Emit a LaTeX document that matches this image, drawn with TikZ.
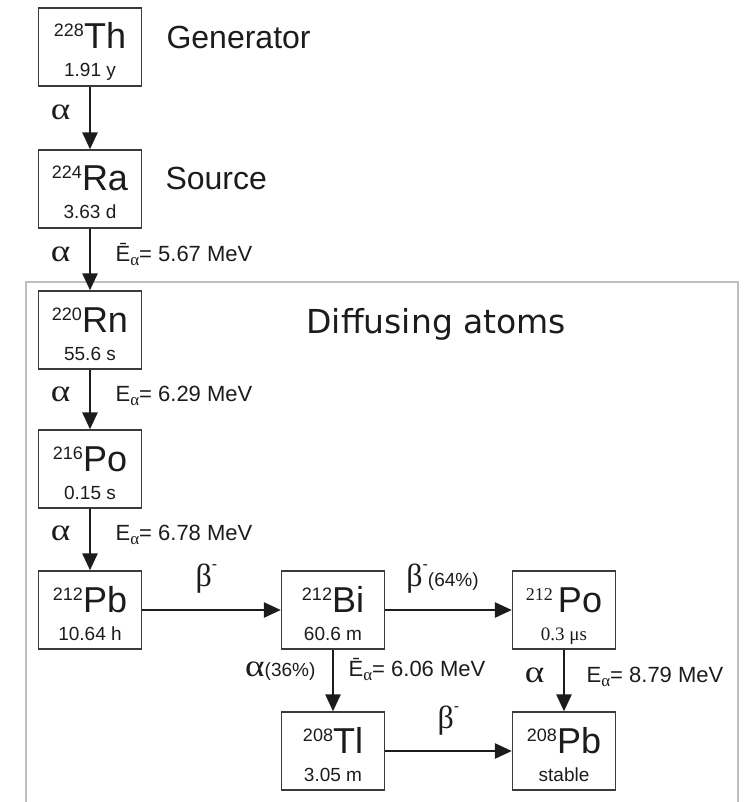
\documentclass[tikz,border=0pt]{standalone}
\usepackage{fontspec}
\setmainfont{Liberation Sans}
\newfontfamily\grk{Liberation Serif}
\newfontfamily\dvs{DejaVu Sans}
\usetikzlibrary{arrows.meta}

\definecolor{boxgray}{HTML}{3A3A3A}
\definecolor{framegray}{HTML}{BEBEBE}
\definecolor{ink}{HTML}{1C1C1C}

\newcommand{\fs}[1]{\fontsize{#1}{#1}\selectfont}
% nuclide box: mass number, element, half-life
\newcommand{\nucl}[3]{\vtop{\baselineskip=28pt\lineskiplimit=-30pt
  \halign{\hfil##\hfil\cr\raisebox{12pt}{\fs{18}#1}{\fs{36}#2}\cr{\fs{19}#3}\cr}}}
\newcommand{\al}{{\grk\fs{31}\scalebox{1.2}[1]{α}}}
\newcommand{\be}{{\grk\fs{32}β}\raisebox{17pt}{\fs{16}-}}
\newcommand{\Ea}{E\raisebox{-4pt}{\grk\fs{17}α}}
\newcommand{\Eb}{Ē\raisebox{-4pt}{\grk\fs{17}α}}

\begin{document}
\begin{tikzpicture}[x=1pt,y=-1pt,every node/.style={text=ink},
  nuc/.style={draw=boxgray,line width=1.3pt,inner sep=0pt,
    minimum width=103pt,text height=41pt,text depth=37pt},
  arr/.style={ink,line width=2.6pt,-{Triangle[width=15pt,length=17pt]}},
  lab/.style={font=\fs{22}},
  big/.style={font=\fs{32}}]
  \useasboundingbox (0,0) rectangle (748,802);

  % diffusing region
  \draw[framegray,line width=1.2pt] (26,802) -- (26,282) -- (738,282) -- (738,802);
  \node[anchor=base west,font=\dvs\fs{33}] (diff) at (303,333) {Diffusing atoms};

  % chain
  \node[nuc] (th) at (90,47) {\nucl{228}{Th}{1.91 y}};
  \node[nuc] (ra) at (90,189) {\nucl{224}{Ra}{3.63 d}};
  \node[nuc] (rn) at (90,330) {\nucl{220}{Rn}{55.6 s}};
  \node[nuc] (po6) at (90,469) {\nucl{216}{Po}{0.15 s}};
  \node[nuc] (pb2) at (90,610) {\nucl{212}{Pb}{10.64 h}};
  \node[nuc] (bi) at (333,610) {\nucl{212}{Bi}{60.6 m}};
  \node[nuc] (po2) at (564,610) {\nucl{{\grk 212}\ }{Po}{{\grk 0.3 μs}}};
  \node[nuc] (tl) at (333,751) {\nucl{208}{Tl}{3.05 m}};
  \node[nuc] (pb8) at (564,751) {\nucl{208}{Pb}{stable}};

  \node[big,anchor=base west] (gen) at (163,49) {Generator};
  \node[big,anchor=base west] (src) at (162,190) {Source};

  % decays
  \draw[arr] (th) -- (ra) node[midway,anchor=base east,xshift=-15pt,yshift=-2pt] (a1) {\al};
  \draw[arr] (ra) -- (rn) node[midway,anchor=base east,xshift=-15pt,yshift=-2pt] (a2) {\al}
    node[midway,lab,anchor=base west,xshift=21pt,yshift=-2pt] (e2) {\Eb= 5.67 MeV};
  \draw[arr] (rn) -- (po6) node[midway,anchor=base east,xshift=-15pt,yshift=-2pt] (a3) {\al}
    node[midway,lab,anchor=base west,xshift=21pt,yshift=-2pt] (e3) {\Ea= 6.29 MeV};
  \draw[arr] (po6) -- (pb2) node[midway,anchor=base east,xshift=-15pt,yshift=-1pt] (a4) {\al}
    node[midway,lab,anchor=base west,xshift=21pt,yshift=-1pt] (e4) {\Ea= 6.78 MeV};
  \draw[arr] (pb2) -- (bi) node[midway,anchor=base,xshift=-5pt,yshift=24pt] (b1) {\be};
  \draw[arr] (bi) -- (po2) node[midway,anchor=base,xshift=-6pt,yshift=24pt] (b2) {\be{\fs{19}(64\%)}};
  \draw[arr] (bi) -- (tl) node[midway,anchor=base east,xshift=-13pt,yshift=4pt] (a5) {\al{\fs{19}(36\%)}}
    node[midway,lab,anchor=base west,xshift=11pt,yshift=4pt] (e5) {\Eb= 6.06 MeV};
  \draw[arr] (po2) -- (pb8) node[midway,anchor=base east,xshift=-15pt,yshift=-2pt] (a6) {\al}
    node[midway,lab,anchor=base west,xshift=18pt,yshift=-2pt] (e6) {\Ea= 8.79 MeV};
  \draw[arr] (tl) -- (pb8) node[midway,anchor=base,yshift=23pt] (b3) {\be};
\end{tikzpicture}
\end{document}
